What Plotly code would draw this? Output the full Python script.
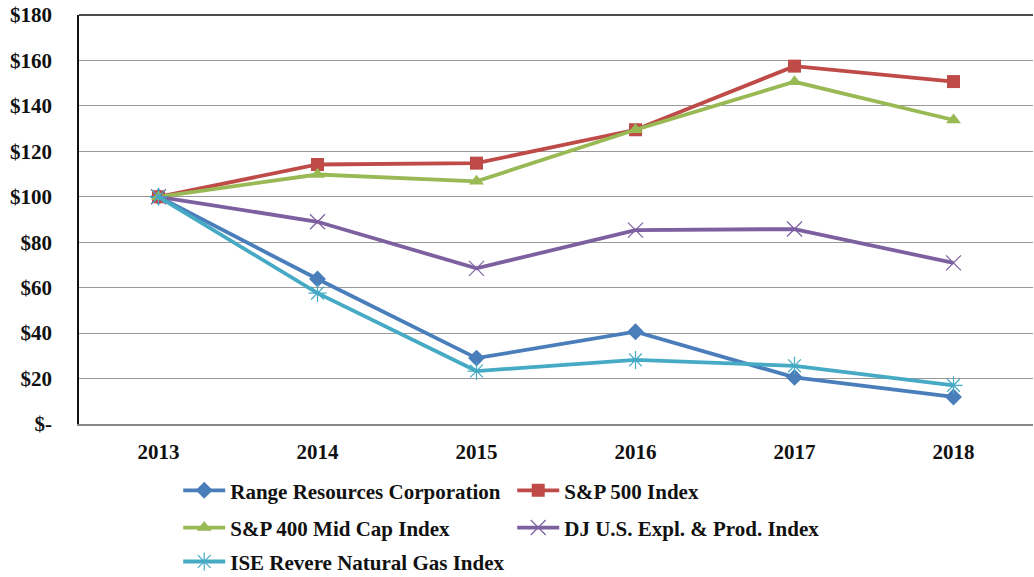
import plotly.graph_objects as go

years = ["2013", "2014", "2015", "2016", "2017", "2018"]
range_res = [100, 63.8, 29.0, 40.6, 20.5, 11.9]
sp500 = [100, 114.2, 114.8, 129.5, 157.5, 150.7]
sp400 = [100, 109.8, 106.8, 129.5, 150.6, 133.8]
dj_ep = [100, 89.0, 68.5, 85.3, 85.8, 70.9]
ise_ng = [100, 57.6, 23.3, 28.2, 25.6, 17.0]

y_ticks = [0, 20, 40, 60, 80, 100, 120, 140, 160, 180]
y_tick_labels = ["$-", "$20", "$40", "$60", "$80", "$100", "$120", "$140", "$160", "$180"]

series = [
    ("Range Resources Corporation", range_res, "#4A7EBB", "diamond", 13, "legend"),
    ("S&P 500 Index", sp500, "#BE4B48", "square", 13, "legend"),
    ("S&P 400 Mid Cap Index", sp400, "#98B954", "triangle-up", 13, "legend2"),
    ("DJ U.S. Expl. & Prod. Index", dj_ep, "#7D60A0", "x-thin-open", 15, "legend2"),
    ("ISE Revere Natural Gas Index", ise_ng, "#46AAC5", "asterisk-open", 15, "legend3"),
]

fig = go.Figure()
for name, vals, color, sym, size, leg in series:
    open_sym = sym.endswith("open")
    fig.add_trace(go.Scatter(
        x=years, y=vals, name=name, mode="lines+markers",
        line=dict(color=color, width=3.8),
        marker=dict(symbol=sym, size=size, color=color,
                    line=dict(color=color, width=1.2 if open_sym else 0)),
        legend=leg,
    ))

font_family = "Liberation Serif"
leg_common = dict(orientation="h", xanchor="left", yanchor="middle",
                  font=dict(family=font_family, size=21, color="#111", weight="bold"),
                  entrywidth=277, entrywidthmode="pixels",
                  bgcolor="rgba(0,0,0,0)", itemwidth=42)

fig.update_layout(
    width=1034, height=577,
    margin=dict(l=79, r=1, t=15, b=153, autoexpand=False),
    paper_bgcolor="white", plot_bgcolor="white",
    font=dict(family=font_family, size=21, color="#111"),
    legend=dict(x=0.104, y=-0.163, **leg_common),
    legend2=dict(x=0.104, y=-0.254, **leg_common),
    legend3=dict(x=0.104, y=-0.337, **leg_common),
    xaxis=dict(type="category", range=[-0.5, 5.5], showgrid=False, automargin=False,
               showline=True, linecolor="#888", linewidth=1.5,
               ticks="", ticklabelstandoff=8,
               tickfont=dict(family=font_family, size=21, color="#111", weight="bold")),
    yaxis=dict(range=[0, 180], tickvals=y_ticks, ticktext=y_tick_labels, automargin=False,
               showgrid=True, gridcolor="#999", gridwidth=1.3,
               showline=True, linecolor="#111", linewidth=1.5,
               zeroline=False, ticks="", ticklabelstandoff=21,
               tickfont=dict(family=font_family, size=21, color="#111", weight="bold")),
    shapes=[dict(type="line", xref="paper", yref="paper", x0=0, x1=1, y0=1, y1=1,
                 line=dict(color="#111", width=1.5))],
)

fig.write_html("out.html", config={"displayModeBar": False},
               post_script="document.body.style.margin='0';document.body.style.overflow='hidden';")
